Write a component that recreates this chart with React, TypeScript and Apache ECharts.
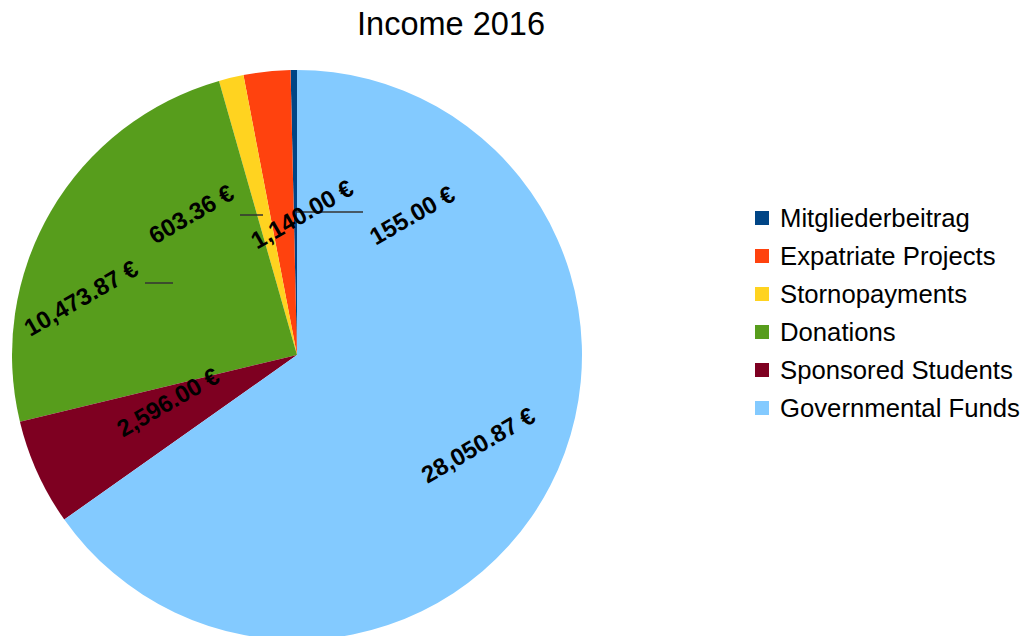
import React, { useEffect, useRef } from "react";
import * as echarts from "echarts";

const categories = [
  "Mitgliederbeitrag",
  "Expatriate Projects",
  "Stornopayments",
  "Donations",
  "Sponsored Students",
  "Governmental Funds",
];
const values = [155.0, 1140.0, 603.36, 10473.87, 2596.0, 28050.87];
const colors = ["#004586", "#ff420e", "#ffd320", "#579d1c", "#7e0021", "#83caff"];
// label placement (polar: angle in degrees, radius as fraction of pie radius)
const labelAngles = [50.6, 88, 126.9, 165.2, 200, -26.4];
const labelRadii = [0.636, 0.495, 0.619, 0.784, 0.482, 0.709];

const CX = 297;
const CY = 355;
const R = 285;

const fmt = (v: number) =>
  v.toLocaleString("en-US", { minimumFractionDigits: 2, maximumFractionDigits: 2 }) + " €";

export default function App() {
  const ref = useRef<HTMLDivElement>(null);
  useEffect(() => {
    if (!ref.current) return;
    const chart = echarts.init(ref.current, undefined, { renderer: "svg" });
    const font = "'Liberation Sans', Arial, sans-serif";
    const labelTexts = values.map((v, i) => {
      const a = (labelAngles[i] * Math.PI) / 180;
      const r = labelRadii[i] * R;
      return {
        type: "text",
        x: CX + r * Math.cos(a),
        y: CY - r * Math.sin(a),
        rotation: (30 * Math.PI) / 180,
        z: 20,
        style: {
          text: fmt(v),
          x: 0,
          y: 0,
          align: "center",
          verticalAlign: "middle",
          fill: "#000",
          font: `bold 24px ${font}`,
        },
      };
    });
    chart.setOption({
      animation: false,
      backgroundColor: "#ffffff",
      title: {
        text: "Income 2016",
        left: 451,
        top: 0,
        textAlign: "center",
        padding: [7, 0, 0, 0],
        textStyle: { fontFamily: font, fontSize: 32.5, fontWeight: "normal", color: "#000" },
      },
      legend: {
        orient: "vertical",
        left: 750,
        top: 200,
        icon: "rect",
        itemWidth: 14,
        itemHeight: 14,
        itemGap: 12,
        selectedMode: false,
        data: categories,
        textStyle: {
          fontFamily: font,
          fontSize: 25.7,
          lineHeight: 26,
          color: "#000",
          padding: [0, 0, 0, 6],
        },
      },
      graphic: [
        { type: "line", shape: { x1: 240, y1: 215, x2: 263, y2: 215 }, style: { stroke: "#333", lineWidth: 1.5 }, z: 10 },
        { type: "line", shape: { x1: 145, y1: 283, x2: 173, y2: 283 }, style: { stroke: "#333", lineWidth: 1.5 }, z: 10 },
        { type: "line", shape: { x1: 296, y1: 212, x2: 363, y2: 212 }, style: { stroke: "#333", lineWidth: 1.5 }, z: 10 },
        ...labelTexts,
      ],
      series: [
        {
          type: "pie",
          center: [CX, CY],
          radius: R,
          startAngle: 90,
          clockwise: false,
          avoidLabelOverlap: false,
          itemStyle: { borderWidth: 0 },
          emphasis: { disabled: true },
          label: { show: false },
          labelLine: { show: false },
          data: categories.map((name, i) => ({
            name,
            value: values[i],
            itemStyle: { color: colors[i] },
          })),
        },
      ],
    });
    return () => chart.dispose();
  }, []);
  return (
    <div
      ref={ref}
      style={{ position: "absolute", left: 0, top: 0, width: 1023, height: 636 }}
    />
  );
}
